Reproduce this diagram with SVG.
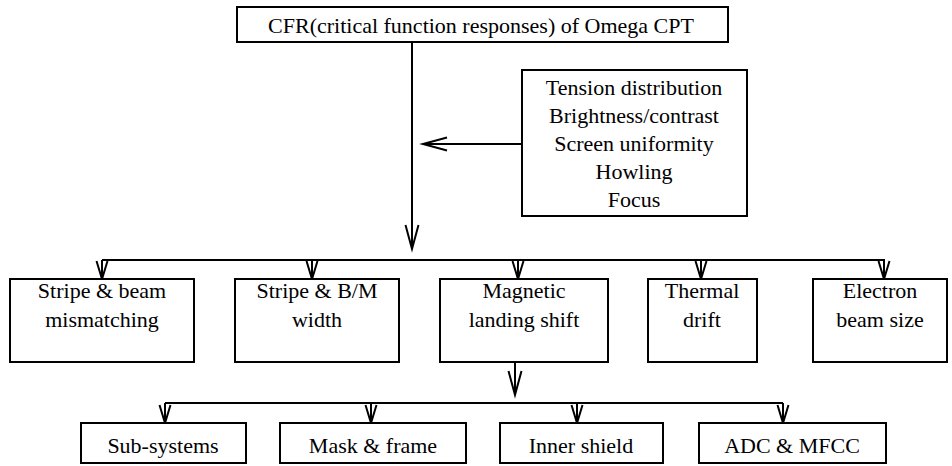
<svg xmlns="http://www.w3.org/2000/svg" width="952" height="466" viewBox="0 0 952 466">
<style>
.box{fill:#fff;stroke:#000;stroke-width:2}
.t{font-size:22px;fill:#000;text-anchor:middle}
.c{fill:none;stroke:#000;stroke-width:2}
</style>
<defs>
<marker id="big" markerUnits="userSpaceOnUse" markerWidth="30" markerHeight="20" refX="0" refY="0" orient="auto" overflow="visible">
<path d="M-24,-6.5 L0,0 L-24,6.5" fill="none" stroke="#000" stroke-width="2"/>
</marker>
<marker id="small" markerUnits="userSpaceOnUse" markerWidth="30" markerHeight="20" refX="0" refY="0" orient="auto" overflow="visible">
<path d="M-18,-5.5 L0,0 L-18,5.5" fill="none" stroke="#000" stroke-width="2"/>
</marker>
</defs>
<rect width="952" height="466" fill="#fff"/>
<g id="connectors">
<line class="c" x1="412" y1="42" x2="412" y2="249" marker-end="url(#big)"/>
<line class="c" x1="522" y1="144" x2="423" y2="144" marker-end="url(#big)"/>
<line class="c" x1="102" y1="260" x2="885" y2="260"/>
<line class="c" x1="102" y1="260" x2="102" y2="279" marker-end="url(#small)"/>
<line class="c" x1="312" y1="260" x2="312" y2="279" marker-end="url(#small)"/>
<line class="c" x1="518" y1="260" x2="518" y2="279" marker-end="url(#small)"/>
<line class="c" x1="701" y1="260" x2="701" y2="279" marker-end="url(#small)"/>
<line class="c" x1="884" y1="260" x2="884" y2="279" marker-end="url(#small)"/>
<line class="c" x1="515" y1="362" x2="515" y2="395" marker-end="url(#big)"/>
<line class="c" x1="165" y1="403" x2="783" y2="403"/>
<line class="c" x1="165" y1="403" x2="165" y2="423" marker-end="url(#small)"/>
<line class="c" x1="371" y1="403" x2="371" y2="423" marker-end="url(#small)"/>
<line class="c" x1="577" y1="403" x2="577" y2="423" marker-end="url(#small)"/>
<line class="c" x1="783" y1="403" x2="783" y2="423" marker-end="url(#small)"/>
</g>
<g font-family="'Liberation Serif', 'Times New Roman', 'DejaVu Serif', serif">
<g id="cfr">
<rect class="box" x="237" y="7" width="491" height="35"/>
<text class="t" x="481" y="33">CFR(critical function responses) of Omega CPT</text>
</g>
<g id="factors">
<rect class="box" x="522" y="70" width="225" height="146"/>
<text class="t" x="634" y="95">Tension distribution</text>
<text class="t" x="634" y="123">Brightness/contrast</text>
<text class="t" x="634" y="151">Screen uniformity</text>
<text class="t" x="634" y="179">Howling</text>
<text class="t" x="634" y="207">Focus</text>
</g>
<g id="stripe-beam">
<rect class="box" x="10" y="279" width="184" height="83"/>
<text class="t" x="102" y="298">Stripe &amp; beam</text>
<text class="t" x="102" y="327">mismatching</text>
</g>
<g id="stripe-bm">
<rect class="box" x="235" y="279" width="164" height="83"/>
<text class="t" x="317" y="298">Stripe &amp; B/M</text>
<text class="t" x="317" y="327">width</text>
</g>
<g id="magnetic">
<rect class="box" x="440" y="279" width="168" height="83"/>
<text class="t" x="524" y="298">Magnetic</text>
<text class="t" x="524" y="327">landing shift</text>
</g>
<g id="thermal">
<rect class="box" x="648" y="279" width="109" height="83"/>
<text class="t" x="702" y="298">Thermal</text>
<text class="t" x="702" y="327">drift</text>
</g>
<g id="electron">
<rect class="box" x="813" y="279" width="134" height="83"/>
<text class="t" x="880" y="298">Electron</text>
<text class="t" x="880" y="327">beam size</text>
</g>
<g id="subsystems">
<rect class="box" x="81" y="423" width="165" height="40"/>
<text class="t" x="163" y="453">Sub-systems</text>
</g>
<g id="mask">
<rect class="box" x="280" y="423" width="186" height="40"/>
<text class="t" x="373" y="453">Mask &amp; frame</text>
</g>
<g id="inner">
<rect class="box" x="500" y="423" width="163" height="40"/>
<text class="t" x="581" y="453">Inner shield</text>
</g>
<g id="adc">
<rect class="box" x="699" y="423" width="187" height="40"/>
<text class="t" x="792" y="453">ADC &amp; MFCC</text>
</g>
</g>
</svg>
